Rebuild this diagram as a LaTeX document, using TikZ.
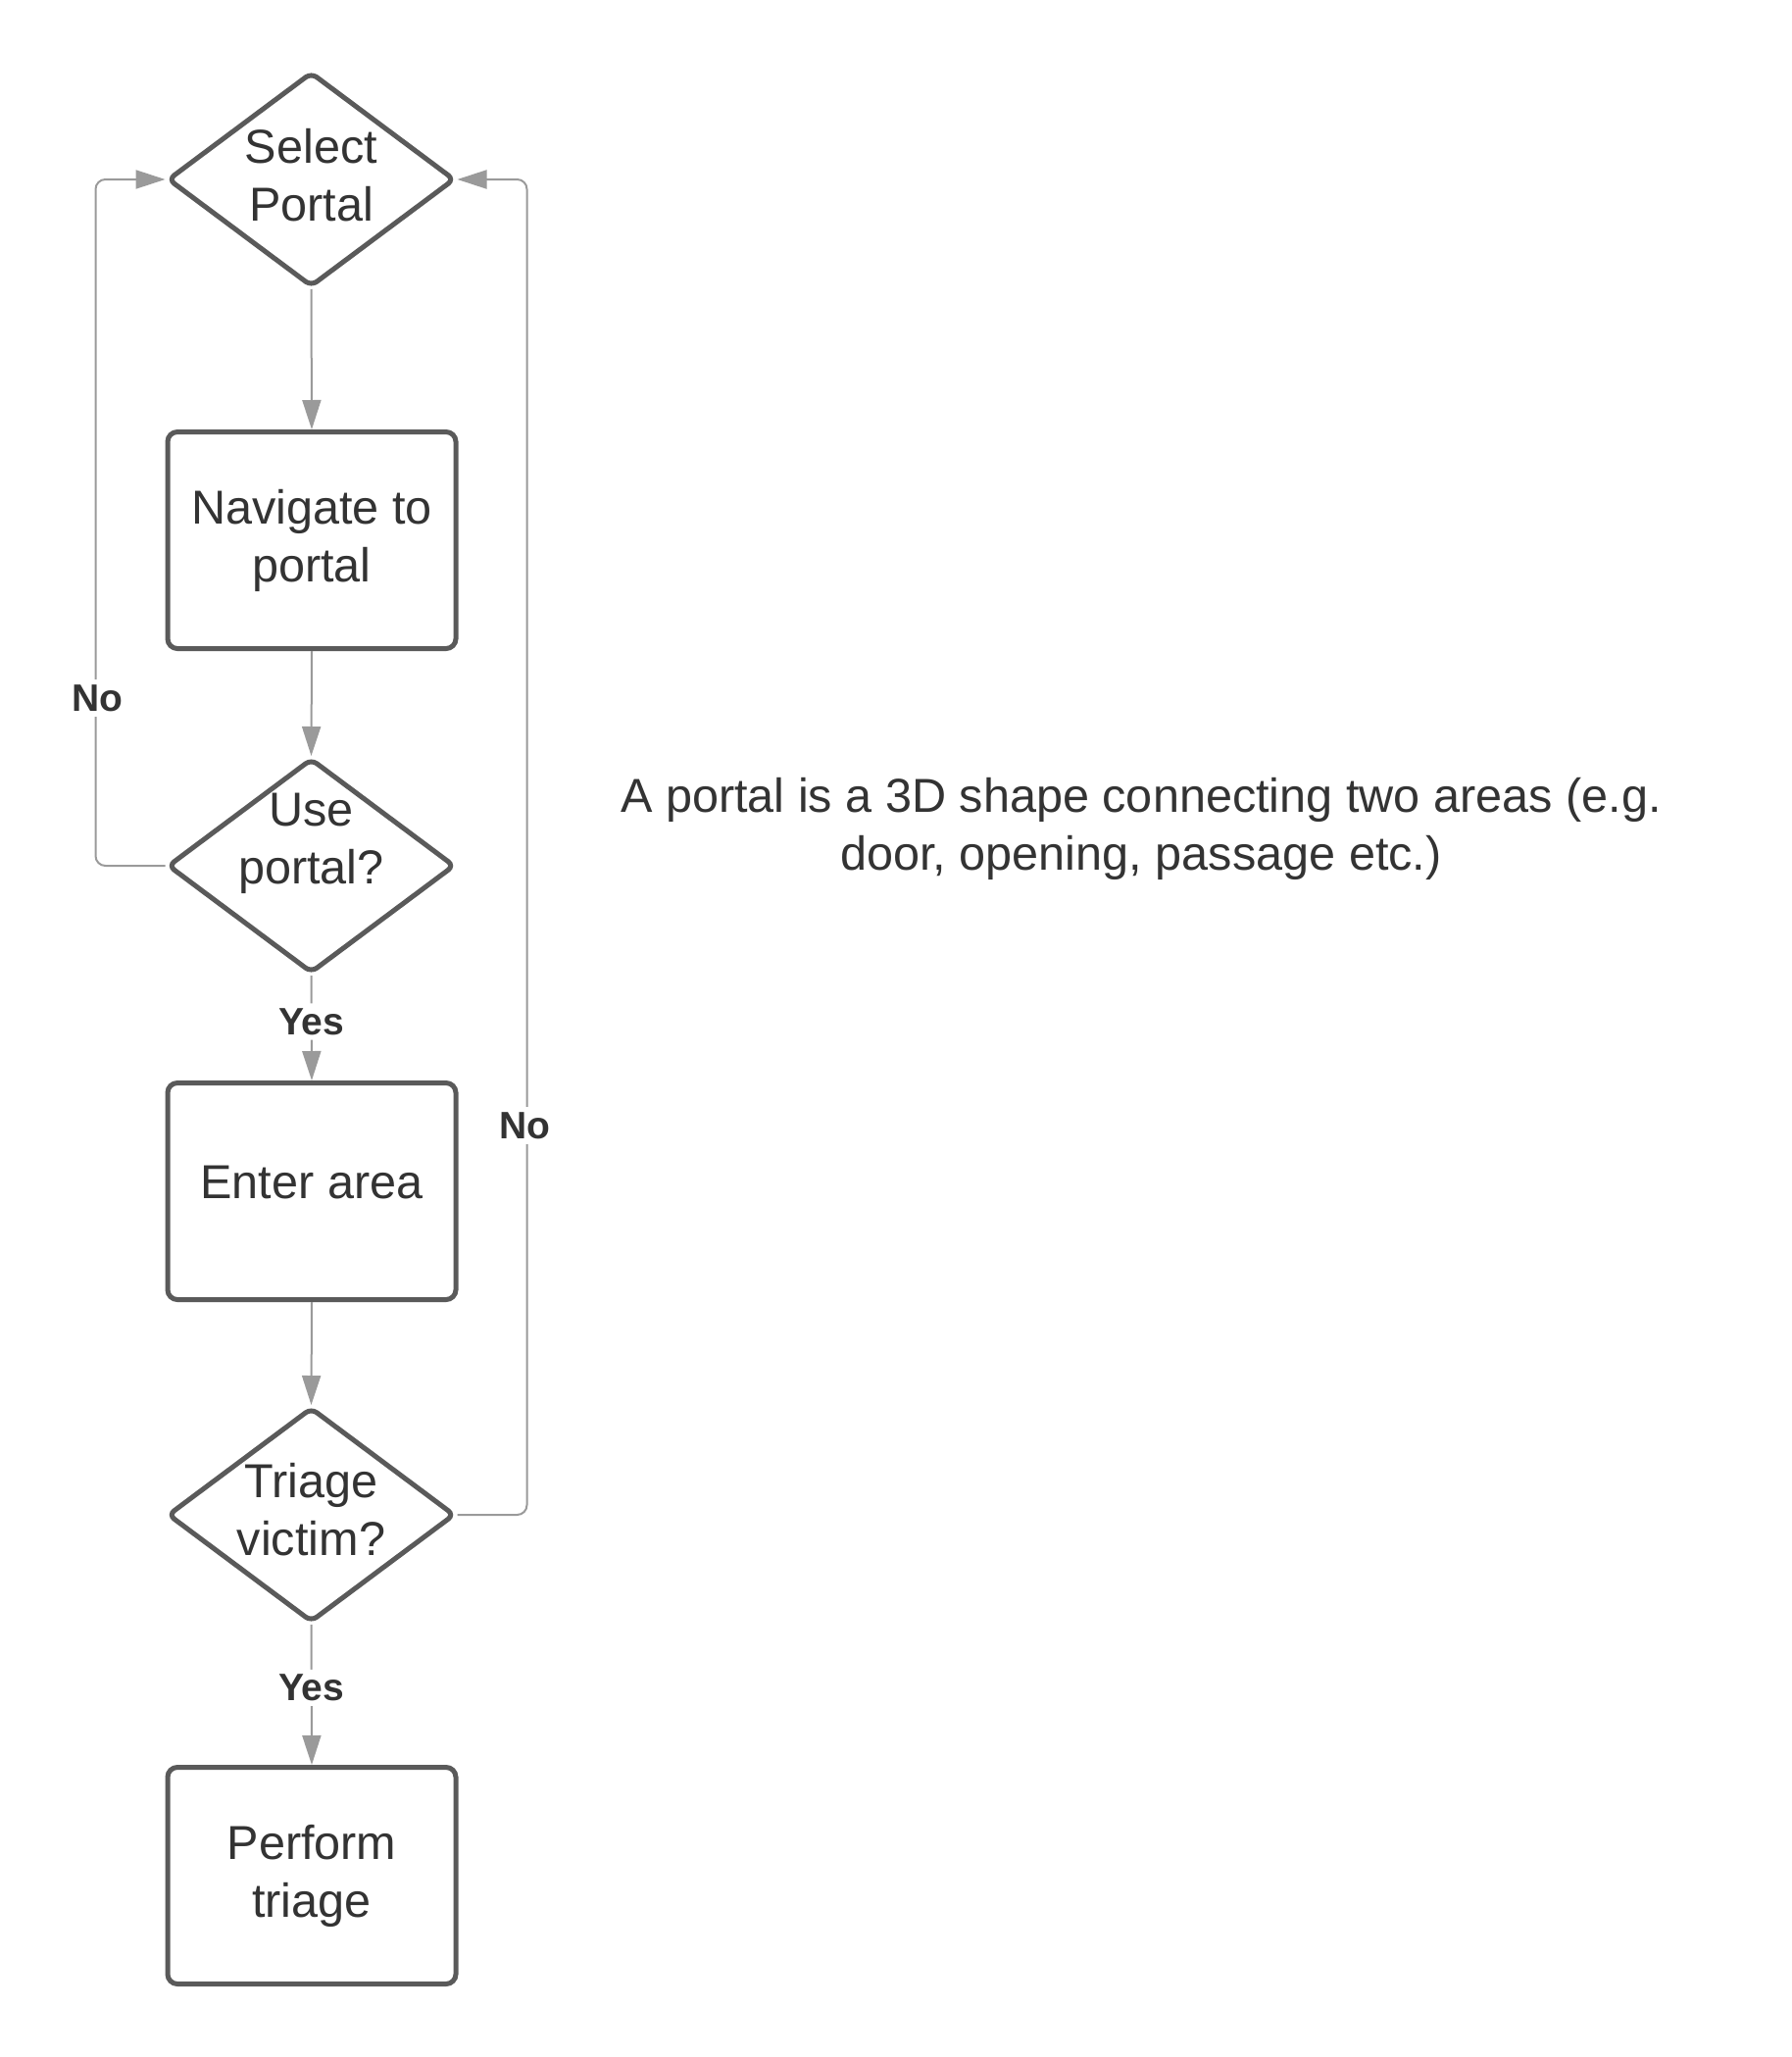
\documentclass[tikz,border=0pt]{standalone}
\usepackage{fontspec}
\setmainfont{Liberation Sans}
\usetikzlibrary{shapes.geometric,arrows.meta}
\definecolor{nodeline}{HTML}{5A5A5A}
\definecolor{connline}{HTML}{9A9A9A}
\definecolor{txt}{HTML}{333333}
\begin{document}
\begin{tikzpicture}[x=0.5pt,y=-0.5pt,
  box/.style={draw=nodeline, line width=2.5pt, rounded corners=5pt, minimum width=147pt, minimum height=110.5pt, inner sep=0pt, fill=white, font=\fontsize{24.3pt}{29.5pt}\selectfont, text=txt, align=center},
  dec/.style={diamond, draw=nodeline, line width=2.5pt, rounded corners=3.5pt, minimum width=146.5pt, minimum height=109.5pt, inner sep=0pt, fill=white},
  ntext/.style={font=\fontsize{24.3pt}{29.5pt}\selectfont, text=txt, align=center, inner sep=0pt},
  conn/.style={draw=connline, line width=1pt, rounded corners=5pt, -{Triangle[length=15pt,width=9.5pt]}},
  lbl/.style={font=\fontsize{19.5pt}{23pt}\selectfont\bfseries, text=txt, fill=white, inner sep=2.5pt}
]
\useasboundingbox (0,0) rectangle (1827,2098);

% nodes
\node[dec] (sp) at (317.5,183) {};
\node[ntext] (spt) at (317.5,179) {Select\\Portal};
\node[box] (nav) at (318,551) {Navigate to\\portal};
\node[dec] (up) at (317.5,883) {};
\node[ntext] (upt) at (317.5,860) {Use\\portal?};
\node[box] (ea) at (318,1215) {};
\node[ntext] (eat) at (318,1206) {Enter area};
\node[dec] (tv) at (317.5,1545) {};
\node[ntext] (tvt) at (317.5,1540) {Triage\\victim?};
\node[box] (pt) at (318,1913) {Perform\\triage};

\node[ntext] (note) at (1164,845) {A portal is a 3D shape connecting two areas (e.g.\\door, opening, passage etc.)};

% connectors
\draw[conn] (sp.south) -- (nav.north);
\draw[conn] (nav.south) -- (up.north);
\draw[conn] (up.south) -- (ea.north) node[lbl, pos=0.44] (yes1) {Yes};
\draw[conn] (ea.south) -- (tv.north);
\draw[conn] (tv.south) -- (pt.north) node[lbl, pos=0.45] (yes2) {Yes};
\draw[conn] (up.west) -- ++(-71,0) |- (sp.west);
\node[lbl] (no1) at (99,712) {No};
\draw[conn] (tv.east) -- ++(71,0) |- (sp.east);
\node[lbl] (no2) at (535,1148) {No};
\end{tikzpicture}
\end{document}
